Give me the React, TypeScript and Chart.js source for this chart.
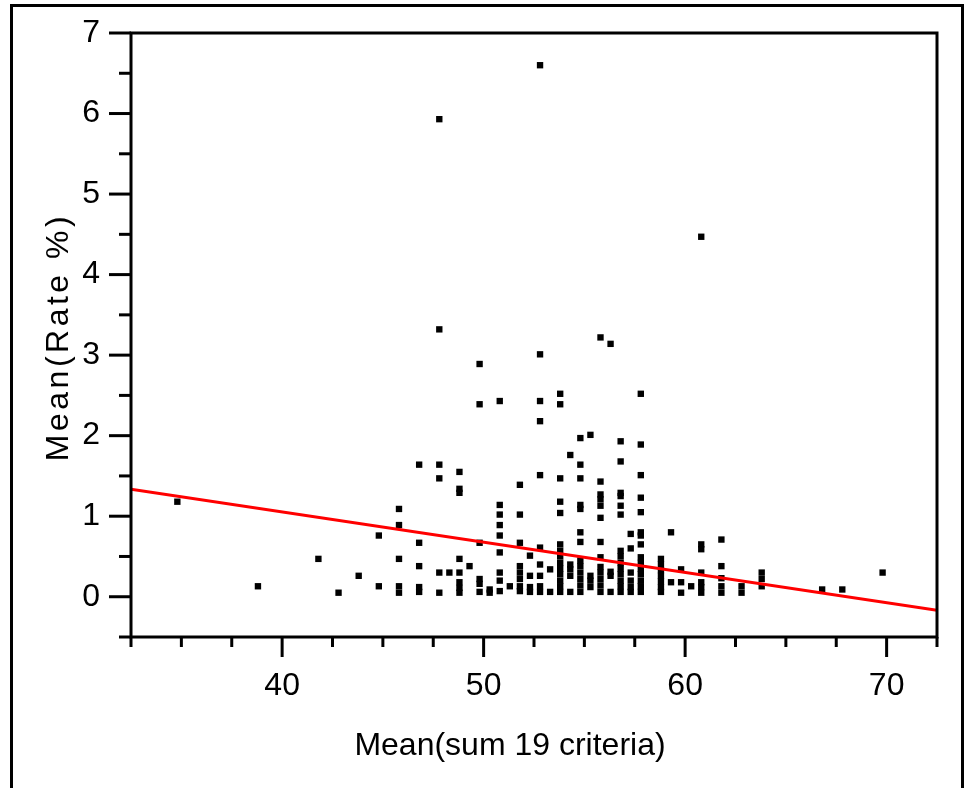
import React, { useEffect, useRef } from "react";
import { Chart, registerables } from "chart.js";

Chart.register(...registerables);

// x position of each column of points (Mean(sum 19 criteria))
const columnX = [
  34.8, 38.8, 41.8, 42.8, 43.8, 44.8, 45.8, 46.8, 47.8, 48.3, 48.8, 49.3, 49.8, 50.3, 50.8, 51.3,
  51.8, 52.3, 52.8, 53.3, 53.8, 54.3, 54.8, 55.3, 55.8, 56.3, 56.8, 57.3, 57.8, 58.8, 59.3, 59.8,
  60.3, 60.8, 61.8, 62.8, 63.8, 66.8, 67.8, 69.8,
];

// Mean(Rate %) values for each column
const columnY: number[][] = [
  [1.18],
  [0.13],
  [0.47],
  [0.05],
  [0.26],
  [0.76, 0.13],
  [1.09, 0.89, 0.47, 0.13, 0.05],
  [1.64, 0.67, 0.38, 0.12, 0.06],
  [5.93, 3.32, 1.64, 1.47, 0.3, 0.05],
  [0.3],
  [1.55, 1.34, 1.29, 0.47, 0.3, 0.18, 0.11, 0.05],
  [0.38],
  [2.89, 2.39, 0.67, 0.22, 0.16, 0.06],
  [0.09, 0.05],
  [2.43, 1.14, 1.02, 0.89, 0.76, 0.55, 0.3, 0.2, 0.07],
  [0.13],
  [1.39, 1.02, 0.67, 0.38, 0.3, 0.22, 0.13, 0.07],
  [0.51, 0.26, 0.12, 0.06],
  [6.6, 3.01, 2.43, 2.18, 1.51, 0.61, 0.4, 0.26, 0.13, 0.06],
  [0.34, 0.06],
  [2.52, 2.39, 1.47, 1.18, 1.04, 0.65, 0.57, 0.5, 0.42, 0.35, 0.28, 0.2, 0.13, 0.06],
  [1.76, 0.4, 0.34, 0.26, 0.06],
  [1.97, 1.64, 1.47, 1.14, 1.09, 0.8, 0.68, 0.45, 0.38, 0.3, 0.22, 0.14, 0.06],
  [2.01, 0.26, 0.2, 0.12],
  [3.22, 1.43, 1.27, 1.21, 1.13, 0.98, 0.68, 0.49, 0.37, 0.3, 0.22, 0.14, 0.06],
  [3.14, 0.31, 0.26, 0.06],
  [1.93, 1.68, 1.29, 1.25, 1.13, 1.02, 0.57, 0.5, 0.42, 0.35, 0.28, 0.2, 0.13, 0.06],
  [0.78, 0.6, 0.3, 0.2, 0.12, 0.06],
  [2.52, 1.89, 1.51, 1.23, 1.05, 0.8, 0.76, 0.65, 0.49, 0.42, 0.35, 0.28, 0.2, 0.13, 0.06],
  [0.47, 0.4, 0.33, 0.26, 0.19, 0.12, 0.06],
  [0.8, 0.18],
  [0.34, 0.18, 0.05],
  [0.13],
  [4.47, 0.65, 0.59, 0.3, 0.18, 0.12, 0.05],
  [0.71, 0.38, 0.23, 0.13, 0.05],
  [0.13, 0.05],
  [0.3, 0.22, 0.13],
  [0.09],
  [0.09],
  [0.3],
];

// fitted regression line end points
const fitX = [32.5, 72.5];
const fitY = [1.335, -0.168];

const xTitle = "Mean(sum 19 criteria)";
const yTitle = "Mean(Rate %)";

const FONT = '"Liberation Sans", Arial, sans-serif';

const framePlugin = {
  id: "frameAndTicks",
  afterDraw(chart: any) {
    const { ctx, chartArea: a, scales } = chart;
    ctx.save();
    ctx.strokeStyle = "#000";
    ctx.lineWidth = 3;
    ctx.strokeRect(a.left, a.top, a.right - a.left, a.bottom - a.top);
    const ys = scales.y;
    ys.ticks.forEach((t: any) => {
      const p = ys.getPixelForValue(t.value);
      const major = Number.isInteger(t.value);
      ctx.beginPath();
      ctx.moveTo(a.left - (major ? 22 : 12), p);
      ctx.lineTo(a.left, p);
      ctx.stroke();
    });
    const xs = scales.x;
    xs.ticks.forEach((t: any) => {
      const p = xs.getPixelForValue(t.value);
      const major = t.value % 10 === 0;
      ctx.beginPath();
      ctx.moveTo(p, a.bottom);
      ctx.lineTo(p, a.bottom + (major ? 20 : 10));
      ctx.stroke();
    });
    ctx.fillStyle = "#000";
    ctx.font = `32px ${FONT}`;
    ctx.textAlign = "center";
    ctx.textBaseline = "alphabetic";
    ctx.fillText(xTitle, 510, 755);
    ctx.save();
    ctx.translate(68, 337);
    ctx.rotate(-Math.PI / 2);
    (ctx as any).letterSpacing = "3.5px";
    ctx.fillText(yTitle, 0, 0);
    ctx.restore();
    ctx.restore();
  },
};

export default function App() {
  const ref = useRef<HTMLCanvasElement | null>(null);

  useEffect(() => {
    if (!ref.current) return;
    const points = columnX.flatMap((x, i) => columnY[i].map((y) => ({ x, y })));
    const line = fitX.map((x, i) => ({ x, y: fitY[i] }));
    const chart = new Chart(ref.current, {
      type: "scatter",
      data: {
        datasets: [
          {
            type: "line" as any,
            data: line,
            borderColor: "#ff0000",
            borderWidth: 3,
            pointRadius: 0,
            fill: false,
          } as any,
          {
            data: points,
            backgroundColor: "#000",
            borderWidth: 0,
            pointStyle: "rect",
            pointRadius: 4.5,
            pointHoverRadius: 4.5,
          },
        ],
      },
      plugins: [framePlugin],
      options: {
        animation: false,
        responsive: false,
        devicePixelRatio: 1,
        layout: { padding: { left: 0, top: 33, right: 29, bottom: 0 } },
        plugins: { legend: { display: false }, tooltip: { enabled: false } },
        scales: {
          x: {
            type: "linear",
            min: 32.5,
            max: 72.5,
            afterFit: (s: any) => {
              s.height = 151;
            },
            border: { display: false },
            grid: {
              display: true,
              drawOnChartArea: false,
              drawTicks: true,
              tickLength: 20,
              tickColor: "rgba(0,0,0,0)",
            },
            ticks: {
              stepSize: 2.5,
              autoSkip: false,
              maxRotation: 0,
              padding: 10,
              color: "#000",
              font: { size: 32, family: FONT },
              callback: (v: any) => (Number(v) % 10 === 0 ? String(v) : ""),
            },
          },
          y: {
            type: "linear",
            min: -0.5,
            max: 7,
            afterFit: (s: any) => {
              s.width = 131;
            },
            border: { display: false },
            grid: {
              display: true,
              drawOnChartArea: false,
              drawTicks: true,
              tickLength: 22,
              tickColor: "rgba(0,0,0,0)",
            },
            ticks: {
              stepSize: 0.5,
              autoSkip: false,
              padding: 9,
              color: "#000",
              font: { size: 32, family: FONT },
              callback: (v: any) => (Number.isInteger(Number(v)) ? String(v) : ""),
            },
          },
        },
      },
    });
    return () => chart.destroy();
  }, []);

  return (
    <div
      style={{
        position: "fixed",
        left: 0,
        top: 0,
        width: 966,
        height: 788,
        overflow: "hidden",
        background: "#fff",
      }}
    >
      <div
        style={{
          position: "absolute",
          left: 10,
          top: 4,
          width: 948,
          height: 790,
          border: "3px solid #000",
          borderBottom: "none",
          boxSizing: "content-box",
        }}
      />
      <canvas
        ref={ref}
        width={966}
        height={788}
        style={{ position: "absolute", left: 0, top: 0, width: 966, height: 788 }}
      />
    </div>
  );
}
